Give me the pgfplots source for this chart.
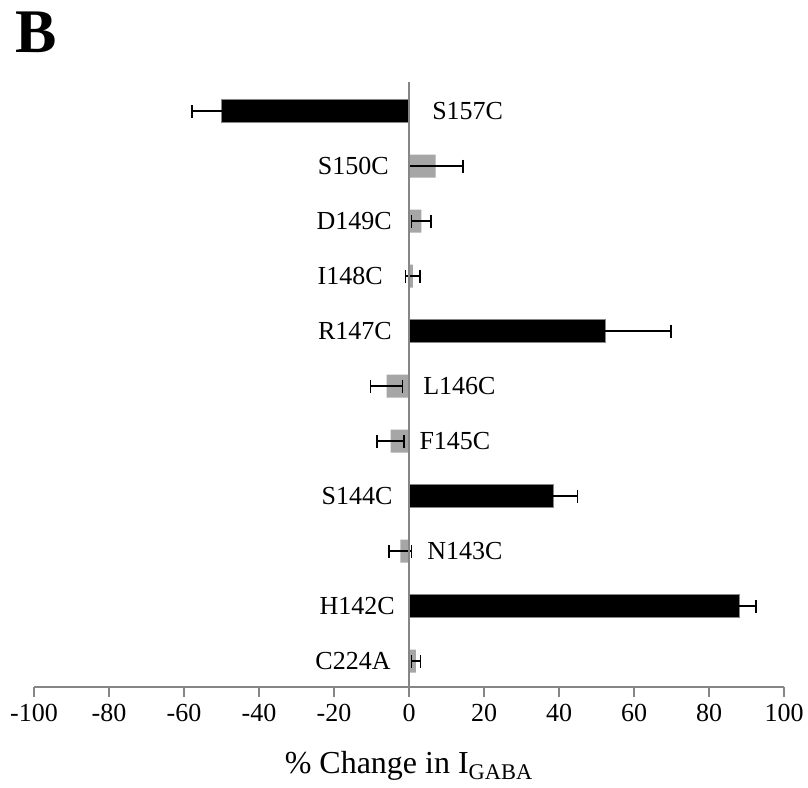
\documentclass[border=0pt]{standalone}
\usepackage{fontspec}
\setmainfont{Liberation Serif}
\usepackage{pgfplots}
\pgfplotsset{compat=1.18}
\definecolor{bargray}{RGB}{166,166,166}
\definecolor{axgray}{RGB}{134,134,134}

\begin{document}
\begin{tikzpicture}
\begin{axis}[
  scale only axis,
  width=375pt, height=302.5pt,
  xmin=-100, xmax=100, ymin=-0.47, ymax=10.53,
  axis x line=bottom, axis y line=none,
  x axis line style={axgray, line width=0.9pt, -},
  xtick={-100,-80,...,100},
  xticklabels={-100,-80,-60,-40,-20,0,20,40,60,80,100},
  tick align=outside, major tick length=5pt,
  x tick style={axgray, line width=0.7pt},
  ytick=\empty,
  tick label style={font=\fontsize{13}{13}\selectfont},
  xlabel={\% Change in I\textsubscript{GABA}},
  xlabel style={font=\fontsize{16}{17}\selectfont, at={(axis description cs:0.5,-0.131)}, anchor=center},
  xbar, bar width=11.5pt, bar shift=0pt,
  clip=false,
]
% black bars
\addplot[fill=black, draw=axgray, line width=0.4pt,
  error bars/.cd, x dir=both, x explicit,
  error bar style={black, line width=0.7pt},
  error mark options={black, line width=0.7pt, mark size=3.2pt, rotate=90}]
  coordinates {
  (-50,10) +- (7.9,0)
  (52.5,6) +- (17.4,0)
  (38.4,3) +- (6.6,0)
  (88,1) +- (4.5,0)
};
% gray bars
\addplot[fill=bargray, draw=none,
  error bars/.cd, x dir=both, x explicit,
  error bar style={black, line width=0.7pt},
  error mark options={black, line width=0.7pt, mark size=3.2pt, rotate=90}]
  coordinates {
  (7.1,9) +- (7.3,0)
  (3.3,8) +- (2.6,0)
  (1.0,7) +- (1.9,0)
  (-6.0,5) +- (4.2,0)
  (-4.9,4) +- (3.6,0)
  (-2.3,2) +- (3.0,0)
  (1.8,0) +- (1.2,0)
};
\draw[axgray, line width=0.9pt] (axis cs:0,-0.47) -- (axis cs:0,10.53);
\begin{scope}[every node/.style={font=\fontsize{13}{13}\selectfont, inner sep=0pt}]
\node[anchor=west] at (axis cs:6.1,10) {S157C};
\node[anchor=east] at (axis cs:-5.3,9) {S150C};
\node[anchor=east] at (axis cs:-4.5,8) {D149C};
\node[anchor=east] at (axis cs:-6.9,7) {I148C};
\node[anchor=east] at (axis cs:-4.5,6) {R147C};
\node[anchor=west] at (axis cs:3.7,5) {L146C};
\node[anchor=west] at (axis cs:2.7,4) {F145C};
\node[anchor=east] at (axis cs:-4.3,3) {S144C};
\node[anchor=west] at (axis cs:4.8,2) {N143C};
\node[anchor=east] at (axis cs:-3.7,1) {H142C};
\node[anchor=east] at (axis cs:-4.8,0) {C224A};
\end{scope}
\end{axis}
\node[font=\bfseries\fontsize{31}{31}\selectfont, inner sep=0pt] at (1pt,327.5pt) {B};
\pgfresetboundingbox
\path (-17pt,-50pt) rectangle (387pt,343.5pt);
\end{tikzpicture}
\end{document}
